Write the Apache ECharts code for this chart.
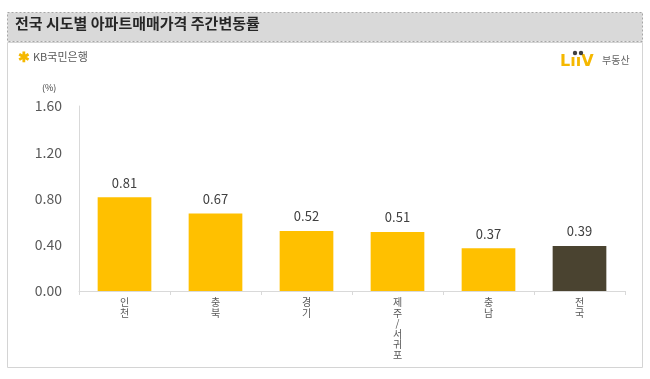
<!DOCTYPE html>
<html><head><meta charset="utf-8">
<script src="https://cdn.jsdelivr.net/npm/echarts@6/dist/echarts.min.js"></script>
<style>html,body{margin:0;padding:0;background:#fff}#c{width:650px;height:379px}</style>
</head><body><div id="c"></div>
<script>
const categories = ['인천','충북','경기','제주/서귀포','충남','전국'];
const values = [0.81, 0.67, 0.52, 0.51, 0.37, 0.39];
const yTicks = [0, 0.4, 0.8, 1.2, 1.6];
const titleText = '전국 시도별 아파트매매가격 주간변동률';
const font = '"Noto Sans CJK KR", "Noto Sans", sans-serif';

const chart = echarts.init(document.getElementById('c'));
chart.setOption({
  animation: false,
  backgroundColor: '#fff',
  graphic: [
    {type:'rect', shape:{x:7.5,y:42.5,width:635,height:325}, style:{fill:'#fff', stroke:'#d4d4d4', lineWidth:1}, z:0},
    {type:'rect', shape:{x:7.5,y:12.5,width:635,height:29}, style:{fill:'#d9d9d9', stroke:'#a6a6a6', lineWidth:1, lineDash:[2,2]}, z:1},
    {type:'text', left:15, top:16, style:{text:titleText, font:'bold 15px ' + font, fill:'#262626'}, z:2},
    {type:'text', left:18, top:50, style:{text:'✱', font:'bold 14px ' + font, fill:'#f5b800'}, z:2},
    {type:'text', left:33, top:51, style:{text:'KB국민은행', font:'11px ' + font, fill:'#595959'}, z:2},
    {type:'text', left:560, top:54, style:{text:'LııV', font:'bold 16px "DejaVu Sans", sans-serif', fill:'#f5b800'}, z:2},
    {type:'circle', shape:{cx:575, cy:53, r:2.2}, style:{fill:'#404040'}, z:2},
    {type:'circle', shape:{cx:581, cy:53, r:2.2}, style:{fill:'#404040'}, z:2},
    {type:'text', left:602, top:55, style:{text:'부동산', font:'10px ' + font, fill:'#666'}, z:2},
    {type:'text', left:42, top:83, style:{text:'(%)', font:'9px ' + font, fill:'#404040'}, z:2}
  ],
  grid: {left:79, right:25, top:106, bottom:88, containLabel:false},
  xAxis: {
    type:'category', data:categories,
    axisLine:{show:true, lineStyle:{color:'#d9d9d9'}},
    axisTick:{show:true, length:4, lineStyle:{color:'#d9d9d9'}},
    axisLabel:{
      interval:0, margin:6, color:'#595959', fontSize:10, fontFamily:font, lineHeight:10.5,
      formatter: v => v.split('').join('\n')
    }
  },
  yAxis: {
    type:'value', min:yTicks[0], max:yTicks[yTicks.length-1], interval:0.4,
    axisLine:{show:true, lineStyle:{color:'#d9d9d9'}},
    axisTick:{show:false},
    splitLine:{show:false},
    axisLabel:{color:'#595959', fontSize:14, fontFamily:font, margin:17, formatter: v => v.toFixed(2)}
  },
  series: [{
    type:'bar', barWidth:'59%',
    data: values.map((v,i) => ({value:v, itemStyle:{color: i === values.length-1 ? '#4a4330' : '#ffc000'}})),
    label:{show:true, position:'top', distance:8, color:'#404040', fontSize:13, fontFamily:font, formatter: p => p.value.toFixed(2)}
  }]
});
</script></body></html>
